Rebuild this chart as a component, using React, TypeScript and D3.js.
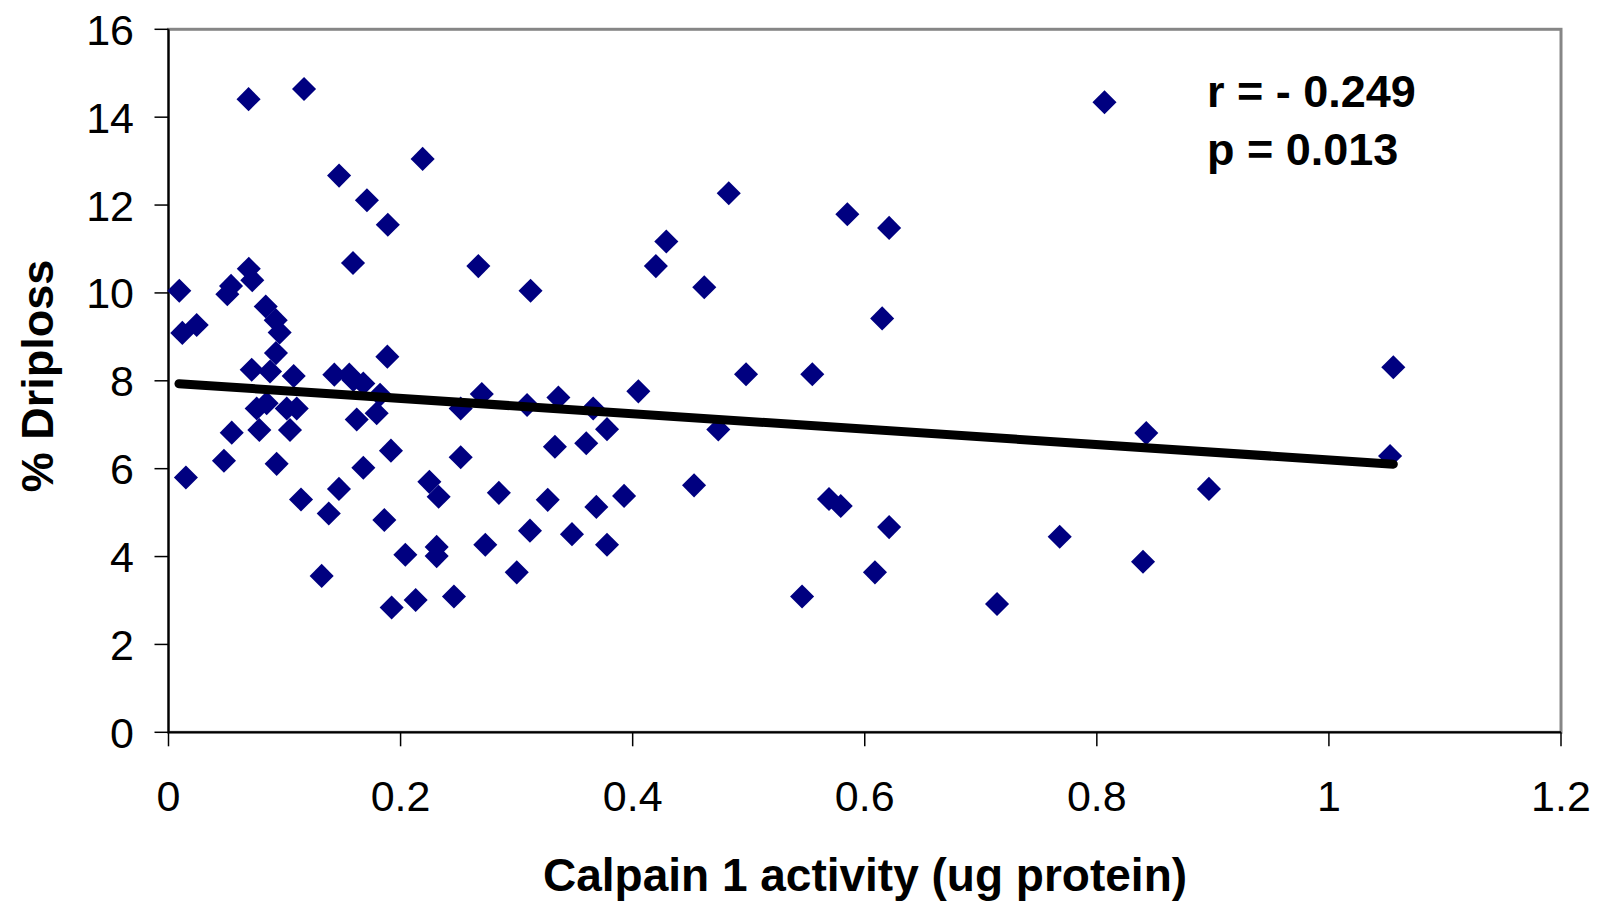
import React from 'react';
import * as d3 from 'd3';

// calpain 1 activity vs % driploss, one point per sample
const calpain = [
  0.0093, 0.0119, 0.0243, 0.0150, 0.0478, 0.0507, 0.0539, 0.0545, 0.0690, 0.0692,
  0.0722, 0.0717, 0.0760, 0.0783, 0.0838, 0.0846, 0.0875, 0.0924, 0.0926, 0.0932,
  0.0958, 0.1019, 0.1047, 0.1079, 0.1105, 0.1142, 0.1168,
  0.1320, 0.1381, 0.1429, 0.1469, 0.1470, 0.1558, 0.1590, 0.1593, 0.1622, 0.1679,
  0.1679, 0.1710, 0.1794, 0.1823, 0.1860, 0.1886, 0.1890, 0.1917, 0.1923, 0.2041,
  0.2130, 0.2190, 0.2248, 0.2311, 0.2311, 0.2328, 0.2460, 0.2518, 0.2518,
  0.2670, 0.2700, 0.2730, 0.2847, 0.3001, 0.3090, 0.3115, 0.3120, 0.3268, 0.3330,
  0.3360, 0.3477, 0.3600, 0.3660, 0.3687, 0.3779, 0.3779, 0.3926, 0.4049, 0.4200,
  0.4290, 0.4529, 0.4617, 0.4738, 0.4828, 0.4977,
  0.5460, 0.5548, 0.5692, 0.5793, 0.5850, 0.6088, 0.6150, 0.6210, 0.6210, 0.7140,
  0.7680, 0.8066, 0.8398, 0.8426, 0.8966, 1.0527, 1.0555,
];
const driploss = [
  10.05, 9.09, 9.27, 5.80, 6.18, 9.97, 10.16, 6.82, 14.41, 10.55,
  10.29, 8.25, 7.37, 6.88, 9.69, 7.49, 8.21, 9.38, 8.63, 6.11,
  9.10, 7.37, 6.88, 8.11, 7.37, 5.30, 14.64,
  3.56, 4.98, 8.14, 5.54, 12.67, 8.14, 10.68, 8.02, 7.12, 7.94,
  6.02, 12.11, 7.26, 7.68, 4.83, 8.55, 11.55, 6.41, 2.84, 4.04,
  3.01, 13.05, 5.70, 4.22, 4.01, 5.36, 3.09, 7.37, 6.26,
  10.61, 7.70, 4.27, 5.45, 3.64, 7.45, 4.59, 10.05, 5.29, 6.50,
  7.62, 4.51, 6.58, 7.37, 5.13, 6.90, 4.27, 5.38, 7.76, 10.61,
  11.17, 5.62, 10.13, 6.89, 12.27, 8.15,
  3.09, 8.15, 5.31, 5.15, 11.79, 3.64, 9.42, 11.48, 4.67, 2.92,
  4.45, 14.34, 3.88, 6.81, 5.54, 6.29, 8.31,
];

// linear trend line
const trendIntercept = 7.95;
const trendSlope = -1.75;
const trendRange = [0.009, 1.0555];

const xTicks = [0, 0.2, 0.4, 0.6, 0.8, 1, 1.2];
const yTicks = [0, 2, 4, 6, 8, 10, 12, 14, 16];
const statLines = ['r = - 0.249', 'p = 0.013'];

const font = '"Liberation Sans", Arial, sans-serif';

const App = () => {
  const width = 1602;
  const height = 904;
  const left = 168.5, right = 1561, top = 29.3, bottom = 732.3;

  const x = d3.scaleLinear().domain([0, 1.2]).range([left, right]);
  const y = d3.scaleLinear().domain([0, 16]).range([bottom, top]);

  const points = calpain.map((c, i) => ({ c, d: driploss[i] }));
  const diamond = d3.symbol().type(d3.symbolSquare).size(290)();
  const trend = d3.line<number>()
    .x((v) => x(v))
    .y((v) => y(trendIntercept + trendSlope * v))(trendRange);

  return (
    <svg width={width} height={height} style={{ position: 'absolute', left: 0, top: 0, background: '#fff' }}>
      <rect x={left} y={top} width={right - left} height={bottom - top} fill="#fff" stroke="#868686" strokeWidth={3} />
      <line x1={left} x2={left} y1={top} y2={bottom} stroke="#000" strokeWidth={2} />
      <line x1={left} x2={right} y1={bottom} y2={bottom} stroke="#000" strokeWidth={2} />

      {yTicks.map((t) => (
        <g key={'y' + t}>
          <line x1={left - 14} x2={left} y1={y(t)} y2={y(t)} stroke="#000" strokeWidth={1.5} />
          <text x={134} y={y(t)} dy="0.36em" textAnchor="end" fontFamily={font} fontSize={43}>{t}</text>
        </g>
      ))}
      {xTicks.map((t) => (
        <g key={'x' + t}>
          <line x1={x(t)} x2={x(t)} y1={bottom} y2={bottom + 14} stroke="#000" strokeWidth={1.5} />
          <text x={x(t)} y={811} textAnchor="middle" fontFamily={font} fontSize={43}>{t}</text>
        </g>
      ))}

      {points.map((p, i) => (
        <path key={i} d={diamond} transform={`translate(${x(p.c)},${y(p.d)}) rotate(45)`} fill="#000080" />
      ))}

      <path d={trend} fill="none" stroke="#000" strokeWidth={9} strokeLinecap="round" />

      {statLines.map((s, i) => (
        <text key={s} x={1207} y={107 + i * 58} fontFamily={font} fontSize={45} fontWeight="bold">{s}</text>
      ))}

      <text x={865} y={891} textAnchor="middle" fontFamily={font} fontSize={46} fontWeight="bold">
        Calpain 1 activity (ug protein)
      </text>
      <text transform="translate(53,376) rotate(-90)" textAnchor="middle" fontFamily={font} fontSize={45} fontWeight="bold">
        % Driploss
      </text>
    </svg>
  );
};

export default App;
